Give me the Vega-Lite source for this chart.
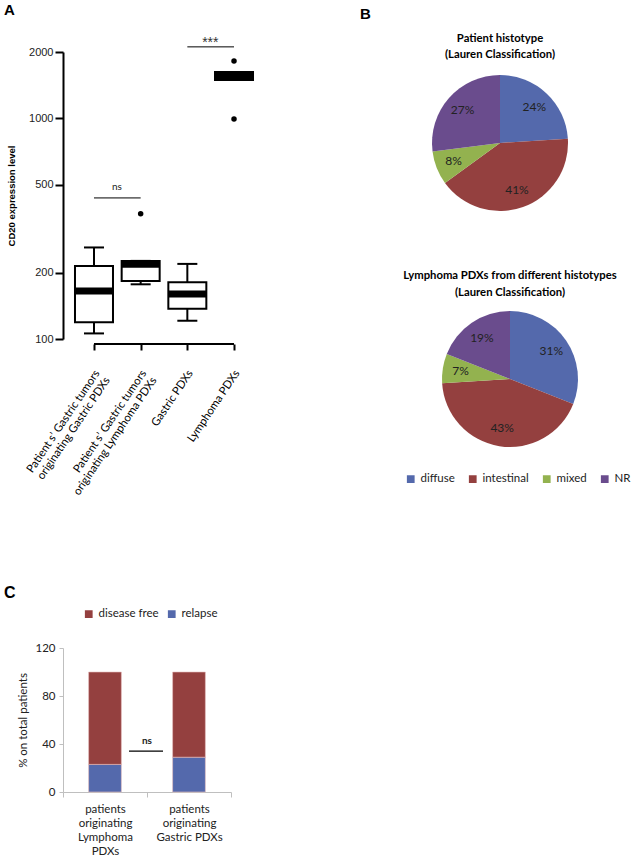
{
  "$schema": "https://vega.github.io/schema/vega-lite/v6.json",
  "background": "white",
  "padding": {"left": 3, "top": 2, "right": 0, "bottom": 0},
  "config": {"view": {"stroke": null}, "font": "Lato"},
  "datasets": {
    "box": [
      {"group": "Patient s’  Gastric tumors|originating Gastric PDXs", "lower": 106, "q1": 119, "median": 165, "q3": 214, "upper": 260},
      {"group": "Patient s’  Gastric tumors|originating Lymphoma PDXs", "lower": 177, "q1": 183, "median": 218, "q3": 226, "upper": 226},
      {"group": "Gastric PDXs", "lower": 121, "q1": 137, "median": 160, "q3": 181, "upper": 219},
      {"group": "Lymphoma PDXs", "lower": 1493, "q1": 1493, "median": 1556, "q3": 1623, "upper": 1623}
    ],
    "outliers": [
      {"group": "Patient s’  Gastric tumors|originating Lymphoma PDXs", "value": 370},
      {"group": "Lymphoma PDXs", "value": 1820},
      {"group": "Lymphoma PDXs", "value": 994}
    ],
    "sig": [
      {"group": "Patient s’  Gastric tumors|originating Gastric PDXs", "group2": "Patient s’  Gastric tumors|originating Lymphoma PDXs", "y": 436, "ty": 490, "label": "ns"},
      {"group": "Gastric PDXs", "group2": "Lymphoma PDXs", "y": 2110, "ty": 2200, "label": "***"}
    ],
    "bracket": [
      {"group": "Patient s’  Gastric tumors|originating Gastric PDXs", "group2": "Lymphoma PDXs", "y": 100}
    ],
    "pie1": [
      {"cls": "diffuse", "ord": 1, "share": 0.24},
      {"cls": "intestinal", "ord": 2, "share": 0.41},
      {"cls": "mixed", "ord": 3, "share": 0.08},
      {"cls": "NR", "ord": 4, "share": 0.27}
    ],
    "pie2": [
      {"cls": "diffuse", "ord": 1, "share": 0.31},
      {"cls": "intestinal", "ord": 2, "share": 0.43},
      {"cls": "mixed", "ord": 3, "share": 0.07},
      {"cls": "NR", "ord": 4, "share": 0.19}
    ],
    "surv": [
      {"cat": "patients|originating|Lymphoma|PDXs", "status": "relapse", "pct": 23},
      {"cat": "patients|originating|Lymphoma|PDXs", "status": "disease free", "pct": 77},
      {"cat": "patients|originating|Gastric PDXs", "status": "relapse", "pct": 29},
      {"cat": "patients|originating|Gastric PDXs", "status": "disease free", "pct": 71}
    ],
    "csig": [
      {"cat": "patients|originating|Lymphoma|PDXs", "cat2": "patients|originating|Gastric PDXs", "y": 34, "ty": 42.5, "label": "ns"}
    ]
  },
  "resolve": {"scale": {"color": "independent"}, "legend": {"color": "independent"}},
  "columns": 2,
  "align": "none",
  "spacing": 95,
  "concat": [
    {
      "title": {"text": "A", "anchor": "start", "font": "Liberation Sans", "fontSize": 15, "fontWeight": "bold", "color": "black", "offset": 18},
      "columns": 1,
      "align": "none",
      "spacing": 88,
      "resolve": {"scale": {"color": "independent"}, "legend": {"color": "independent"}},
      "concat": [
        {
          "width": 202,
          "height": 287,
          "layer": [
            {
              "data": {"name": "box"},
              "mark": {"type": "rule", "color": "black", "strokeWidth": 2},
              "encoding": {
                "x": {"field": "group", "type": "nominal", "sort": null,
                  "scale": {"type": "point", "padding": 0.664},
                  "axis": {"title": null, "domain": false, "labelExpr": "split(datum.value, '|')", "labelAngle": -56, "labelFontSize": 11.3, "labelFont": "Lato", "labelColor": "black", "labelLineHeight": 12.5, "offset": 5, "tickWidth": 2, "tickSize": 6, "tickColor": "black", "labelPadding": 21, "labelOffset": 3}},
                "y": {"field": "lower", "type": "quantitative",
                  "scale": {"type": "log", "domain": [100, 2000], "nice": false},
                  "axis": {"title": "CD20 expression level", "titleFont": "Liberation Sans", "titleFontSize": 9.5, "titleFontWeight": "bold", "titleColor": "black", "titlePadding": 12, "values": [100, 200, 500, 1000, 2000], "format": "d", "labelFont": "Liberation Sans", "labelFontSize": 11, "labelColor": "#222", "domainWidth": 2, "domainColor": "black", "tickWidth": 2, "tickColor": "black", "tickSize": 8, "labelPadding": 2, "grid": false, "labelOverlap": false}},
                "y2": {"field": "upper"}
              }
            },
            {
              "data": {"name": "bracket"},
              "mark": {"type": "rule", "color": "black", "strokeWidth": 2, "yOffset": 5},
              "encoding": {
                "x": {"field": "group", "type": "nominal", "sort": null},
                "x2": {"field": "group2"},
                "y": {"field": "y", "type": "quantitative"}
              }
            },
            {
              "data": {"name": "box"},
              "mark": {"type": "bar", "width": 38, "fill": "white", "stroke": "black", "strokeWidth": 2},
              "encoding": {
                "x": {"field": "group", "type": "nominal", "sort": null},
                "y": {"field": "q1", "type": "quantitative"},
                "y2": {"field": "q3"}
              }
            },
            {
              "data": {"name": "box"},
              "mark": {"type": "tick", "color": "black", "size": 38, "thickness": 7, "opacity": 1},
              "encoding": {
                "x": {"field": "group", "type": "nominal", "sort": null},
                "y": {"field": "median", "type": "quantitative"}
              }
            },
            {
              "data": {"name": "box"},
              "mark": {"type": "tick", "color": "black", "size": 20, "thickness": 2, "opacity": 1},
              "encoding": {
                "x": {"field": "group", "type": "nominal", "sort": null},
                "y": {"field": "lower", "type": "quantitative"}
              }
            },
            {
              "data": {"name": "box"},
              "mark": {"type": "tick", "color": "black", "size": 20, "thickness": 2, "opacity": 1},
              "encoding": {
                "x": {"field": "group", "type": "nominal", "sort": null},
                "y": {"field": "upper", "type": "quantitative"}
              }
            },
            {
              "data": {"name": "outliers"},
              "mark": {"type": "circle", "color": "black", "size": 30, "opacity": 1},
              "encoding": {
                "x": {"field": "group", "type": "nominal", "sort": null},
                "y": {"field": "value", "type": "quantitative"}
              }
            },
            {
              "data": {"name": "sig"},
              "mark": {"type": "rule", "color": "black", "strokeWidth": 1},
              "encoding": {
                "x": {"field": "group", "type": "nominal", "sort": null},
                "x2": {"field": "group2"},
                "y": {"field": "y", "type": "quantitative"}
              }
            },
            {
              "data": {"name": "sig"},
              "transform": [{"filter": "datum.label == 'ns'"}],
              "mark": {"type": "text", "dx": 23, "fontSize": 10, "font": "Lato", "color": "#222"},
              "encoding": {
                "x": {"field": "group", "type": "nominal", "sort": null},
                "y": {"field": "ty", "type": "quantitative"},
                "text": {"field": "label"}
              }
            },
            {
              "data": {"name": "sig"},
              "transform": [{"filter": "datum.label == '***'"}],
              "mark": {"type": "text", "dx": 23, "fontSize": 14, "font": "Liberation Sans", "color": "#333"},
              "encoding": {
                "x": {"field": "group", "type": "nominal", "sort": null},
                "y": {"field": "ty", "type": "quantitative"},
                "text": {"field": "label"}
              }
            }
          ]
        },
        {
          "title": {"text": "C", "anchor": "start", "font": "Liberation Sans", "fontSize": 16, "fontWeight": "bold", "color": "black", "offset": 7, "dx": -14},
          "width": 168,
          "height": 144,
          "layer": [
            {
              "data": {"name": "surv"},
              "mark": {"type": "bar", "width": {"band": 0.39}, "stroke": "#E8C0C0", "strokeWidth": 0.6},
              "encoding": {
                "x": {"field": "cat", "type": "nominal", "sort": null,
                  "scale": {"paddingInner": 0, "paddingOuter": 0},
                  "axis": {"title": null, "labelAngle": 0, "labelExpr": "isValid(datum.value) ? split(datum.value, '|') : ''", "labelFont": "Lato", "labelFontSize": 11.5, "labelColor": "#222", "labelLineHeight": 14, "labelPadding": 6, "domainColor": "#BFBFBF", "tickColor": "#BFBFBF", "tickBand": "extent", "tickSize": 5, "labelBaseline": "top"}},
                "y": {"field": "pct", "type": "quantitative", "stack": "zero",
                  "scale": {"domain": [0, 120], "nice": false},
                  "axis": {"title": "% on total patients", "titleFont": "Lato", "titleFontSize": 11.5, "titleFontWeight": "normal", "titleColor": "#222", "titlePadding": 6, "values": [0, 20, 40, 60, 80, 100, 120], "labelFont": "Lato", "labelFontSize": 11.5, "labelColor": "#222", "labelOverlap": false, "domainColor": "#BFBFBF", "tickColor": "#BFBFBF", "tickSize": 4, "labelPadding": 4, "grid": false}},
                "color": {"field": "status", "type": "nominal",
                  "scale": {"domain": ["disease free", "relapse"], "range": ["#94403F", "#5469AC"]},
                  "legend": {"title": null, "orient": "none", "legendX": 20, "legendY": -40, "direction": "horizontal", "symbolType": "square", "symbolSize": 60, "symbolStrokeWidth": 0, "labelFont": "Lato", "labelFontSize": 11.5, "labelColor": "#222", "columnPadding": 7, "symbolOpacity": 1}},
                "order": {"field": "status", "sort": "descending"}
              }
            },
            {
              "data": {"name": "csig"},
              "mark": {"type": "rule", "color": "black", "strokeWidth": 1.2, "xOffset": 24, "x2Offset": -26},
              "encoding": {
                "x": {"field": "cat", "type": "nominal", "sort": null},
                "x2": {"field": "cat2"},
                "y": {"field": "y", "type": "quantitative"}
              }
            },
            {
              "data": {"name": "csig"},
              "mark": {"type": "text", "dx": 42, "fontSize": 10, "fontWeight": "bold", "font": "Lato", "color": "#222"},
              "encoding": {
                "x": {"field": "cat", "type": "nominal", "sort": null},
                "y": {"field": "ty", "type": "quantitative"},
                "text": {"field": "label"}
              }
            }
          ]
        }
      ]
    },
    {
      "title": {"text": "B", "anchor": "start", "font": "Liberation Sans", "fontSize": 15, "fontWeight": "bold", "color": "black", "offset": 11, "dx": -19},
      "columns": 1,
      "align": "none",
      "spacing": 35,
      "resolve": {"scale": {"color": "shared"}, "legend": {"color": "independent"}},
      "concat": [
        {
          "title": {"text": ["Patient histotype", "(Lauren Classification)"], "font": "Lato", "fontSize": 11.3, "fontWeight": "bold", "color": "black", "anchor": "middle", "offset": -8, "lineHeight": 16},
          "width": 242,
          "height": 182,
          "data": {"name": "pie1"},
          "encoding": {
            "theta": {"field": "share", "type": "quantitative", "stack": true},
            "order": {"field": "ord", "type": "quantitative"}
          },
          "layer": [
            {
              "mark": {"type": "arc", "outerRadius": 68},
              "encoding": {
                "color": {"field": "cls", "type": "nominal", "scale": {"domain": ["diffuse", "intestinal", "mixed", "NR"], "range": ["#5469AC", "#94403F", "#93B24F", "#6A4C8D"]}, "legend": null}
              }
            },
            {
              "mark": {"type": "text", "radius": 50, "fontSize": 12, "font": "Lato", "color": "#222"},
              "encoding": {"text": {"field": "share", "type": "quantitative", "format": ".0%"}}
            }
          ]
        },
        {
          "title": {"text": ["Lymphoma PDXs from different histotypes", "(Lauren Classification)"], "font": "Lato", "fontSize": 11.3, "fontWeight": "bold", "color": "black", "anchor": "middle", "offset": 13, "lineHeight": 17},
          "width": 262,
          "height": 136,
          "data": {"name": "pie2"},
          "encoding": {
            "theta": {"field": "share", "type": "quantitative", "stack": true},
            "order": {"field": "ord", "type": "quantitative"}
          },
          "layer": [
            {
              "mark": {"type": "arc", "outerRadius": 68},
              "encoding": {
                "color": {"field": "cls", "type": "nominal", "scale": {"domain": ["diffuse", "intestinal", "mixed", "NR"], "range": ["#5469AC", "#94403F", "#93B24F", "#6A4C8D"]},
                  "legend": {"title": null, "orient": "none", "legendX": 26, "legendY": 162, "direction": "horizontal", "symbolType": "square", "symbolSize": 60, "symbolStrokeWidth": 0, "symbolOpacity": 1, "labelFont": "Lato", "labelFontSize": 11.5, "labelColor": "#222", "columnPadding": 12}}
              }
            },
            {
              "mark": {"type": "text", "radius": 50, "fontSize": 12, "font": "Lato", "color": "#222"},
              "encoding": {"text": {"field": "share", "type": "quantitative", "format": ".0%"}}
            }
          ]
        }
      ]
    }
  ]
}
